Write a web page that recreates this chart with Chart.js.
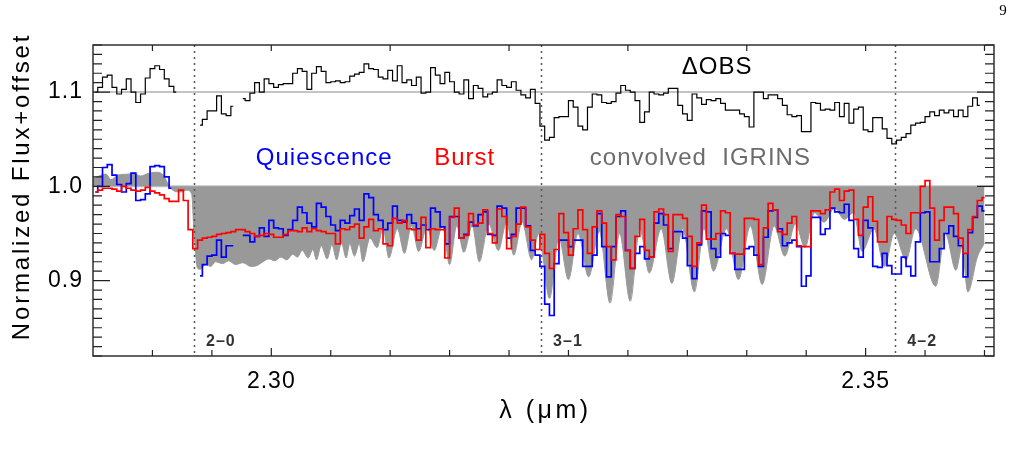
<!DOCTYPE html>
<html>
<head>
<meta charset="utf-8">
<script src="https://cdn.jsdelivr.net/npm/chart.js@4.4.1/dist/chart.umd.min.js"></script>
<style>
html,body{margin:0;padding:0;background:#ffffff;}
canvas{display:block;}
</style>
</head>
<body>
<canvas id="c" width="1018" height="451"></canvas>
<script>
// ---- wavelength of each spectral bin (micron) ----
const wavelength = [
2.2852,2.2856,2.2860,2.2864,2.2868,2.2872,2.2876,2.2880,2.2884,2.2888,
2.2892,2.2896,2.2900,2.2904,2.2908,2.2912,2.2916,2.2920,2.2924,2.2928,
2.2932,2.2936,2.2940,2.2944,2.2948,2.2952,2.2956,2.2960,2.2964,2.2968,
2.2972,2.2976,2.2980,2.2984,2.2988,2.2992,2.2996,2.3000,2.3004,2.3008,
2.3012,2.3016,2.3020,2.3024,2.3028,2.3032,2.3036,2.3040,2.3044,2.3048,
2.3052,2.3056,2.3060,2.3064,2.3068,2.3072,2.3076,2.3080,2.3084,2.3088,
2.3092,2.3096,2.3100,2.3104,2.3108,2.3112,2.3116,2.3120,2.3124,2.3128,
2.3132,2.3136,2.3140,2.3144,2.3148,2.3152,2.3156,2.3160,2.3164,2.3168,
2.3172,2.3176,2.3180,2.3184,2.3188,2.3192,2.3196,2.3200,2.3204,2.3208,
2.3212,2.3216,2.3220,2.3224,2.3228,2.3232,2.3236,2.3240,2.3244,2.3248,
2.3252,2.3256,2.3260,2.3264,2.3268,2.3272,2.3276,2.3280,2.3284,2.3288,
2.3292,2.3296,2.3300,2.3304,2.3308,2.3312,2.3316,2.3320,2.3324,2.3328,
2.3332,2.3336,2.3340,2.3344,2.3348,2.3352,2.3356,2.3360,2.3364,2.3368,
2.3372,2.3376,2.3380,2.3384,2.3388,2.3392,2.3396,2.3400,2.3404,2.3408,
2.3412,2.3416,2.3420,2.3424,2.3428,2.3432,2.3436,2.3440,2.3444,2.3448,
2.3452,2.3456,2.3460,2.3464,2.3468,2.3472,2.3476,2.3480,2.3484,2.3488,
2.3492,2.3496,2.3500,2.3504,2.3508,2.3512,2.3516,2.3520,2.3524,2.3528,
2.3532,2.3536,2.3540,2.3544,2.3548,2.3552,2.3556,2.3560,2.3564,2.3568,
2.3572,2.3576,2.3580,2.3584,2.3588,2.3592,2.3596,2.3600
];

// ---- Quiescence spectrum (blue) ----
const quiescence = [
0.994,1.000,1.020,1.023,1.012,1.002,0.994,1.003,1.014,0.985,
0.986,0.992,1.021,1.022,1.021,1.010,0.998,null,null,null,
null,null,0.905,0.917,0.926,0.927,0.943,0.925,0.937,0.937,
null,0.948,0.948,0.941,0.947,0.956,0.947,0.964,0.956,0.955,
0.948,0.954,0.964,0.978,0.972,0.961,0.957,0.982,0.978,0.968,
0.959,0.953,0.964,0.961,0.969,0.976,0.964,0.992,0.988,0.970,
0.964,0.954,0.961,0.979,0.964,0.962,0.970,0.961,0.955,0.959,
0.954,0.977,0.973,0.957,0.939,0.968,0.968,0.945,0.949,0.962,
0.958,0.970,0.973,0.949,0.948,0.979,0.977,0.945,0.949,0.977,
0.977,0.958,0.932,0.927,0.915,0.875,0.863,0.918,0.943,0.943,
0.936,0.943,0.943,0.915,0.915,0.927,0.971,0.936,0.904,0.936,
0.968,0.974,0.932,0.913,0.929,0.936,0.923,0.925,0.961,0.971,
0.959,0.934,0.952,0.952,0.945,0.916,0.902,0.938,0.974,0.973,
0.934,0.925,0.950,0.948,0.929,0.912,0.912,0.934,0.936,0.927,
0.915,0.946,0.974,0.975,0.955,0.937,0.940,0.943,0.936,0.894,
0.905,0.967,0.967,0.949,0.955,0.977,0.973,0.972,0.981,0.964,
0.934,0.925,0.964,0.956,0.915,0.914,0.929,0.916,0.907,0.907,
0.925,0.915,0.905,0.941,0.972,0.973,0.920,0.920,0.934,0.950,
0.958,0.947,0.937,0.904,0.951,0.967,0.979,0.974
];

// ---- Burst spectrum (red) ----
const burst = [
0.994,0.996,0.998,0.998,0.997,0.995,1.000,0.998,0.996,0.995,
0.996,0.999,0.995,0.993,0.991,0.987,0.984,0.984,0.996,0.985,
0.954,0.934,0.943,0.945,0.946,0.947,0.949,0.950,0.951,0.952,
0.954,0.954,0.952,0.950,0.947,0.948,0.950,0.949,0.946,0.946,
0.949,0.953,0.953,0.952,0.956,0.952,0.955,0.953,0.952,0.950,
0.950,0.939,0.955,0.954,0.957,0.960,0.945,0.957,0.965,0.953,
0.955,0.939,0.937,0.966,0.961,0.964,0.955,0.954,0.943,0.967,
0.935,0.955,0.954,0.954,0.924,0.967,0.977,0.945,0.948,0.971,
0.959,0.961,0.975,0.950,0.940,0.976,0.968,0.934,0.947,0.960,
0.978,0.957,0.943,0.933,0.949,0.929,0.913,0.933,0.971,0.951,
0.927,0.955,0.975,0.954,0.929,0.957,0.974,0.961,0.936,0.922,
0.970,0.968,0.932,0.913,0.947,0.965,0.932,0.925,0.973,0.976,
0.970,0.931,0.970,0.970,0.966,0.947,0.915,0.940,0.980,0.944,
0.944,0.950,0.974,0.972,0.929,0.928,0.928,0.966,0.966,0.965,
0.917,0.956,0.982,0.975,0.952,0.949,0.961,0.968,0.937,0.936,
0.936,0.974,0.974,0.971,0.975,0.994,0.997,0.985,0.995,0.996,
0.965,0.948,0.978,0.989,0.963,0.941,0.941,0.968,0.965,0.964,
0.959,0.950,0.972,0.972,1.000,1.006,0.977,0.943,0.964,0.978,
0.978,0.971,0.945,0.929,0.954,0.968,0.985,0.988
];

// ---- Delta OBS (offset to 1.1) ----
const deltaObs = [
1.100,1.105,1.116,1.118,1.105,1.098,1.103,1.114,1.100,1.089,
1.098,1.115,1.125,1.128,1.124,1.114,1.106,1.100,null,null,
null,null,1.065,1.071,1.080,1.080,1.096,1.077,1.075,1.085,
null,1.093,1.091,1.099,1.110,1.100,1.114,1.109,1.105,1.108,
1.109,1.109,1.120,1.125,1.122,1.103,1.120,1.127,1.122,1.110,
1.111,1.112,1.110,1.111,1.117,1.119,1.121,1.130,1.125,1.124,
1.116,1.114,1.123,1.112,1.128,1.110,1.113,1.107,1.116,1.099,
1.100,1.126,1.118,1.109,1.121,1.111,1.100,1.098,1.113,1.093,
1.107,1.104,1.095,1.098,1.100,1.113,1.107,1.105,1.111,1.102,
1.097,1.094,1.103,1.088,1.064,1.049,1.052,1.073,1.074,1.074,
1.091,1.084,1.064,1.060,1.084,1.098,1.097,1.089,1.088,1.090,
1.099,1.107,1.102,1.100,1.091,1.068,1.079,1.100,1.098,1.097,
1.099,1.104,1.104,1.086,1.077,1.070,1.098,1.094,1.087,1.092,
1.091,1.093,1.088,1.081,1.081,1.081,1.077,1.074,1.063,1.100,
1.100,1.093,1.097,1.097,1.093,1.086,1.076,1.074,1.075,1.058,
1.058,1.089,1.088,1.081,1.082,1.081,1.089,1.074,1.088,1.067,
1.082,1.084,1.060,1.058,1.073,1.073,1.061,1.051,1.045,1.049,
1.052,1.056,1.065,1.067,1.068,1.074,1.079,1.075,1.081,1.078,
1.081,1.074,1.081,1.074,1.085,1.094,1.086,null
];

// ---- convolved IGRINS model (grey) ----
const modelWave = [
2.2850,2.2857,2.2861,2.2865,2.2871,2.2880,2.2884,2.2890,2.2897,2.2904,
2.2909,2.2913,2.2917,2.2924,2.2929,2.2933,2.2935,2.2938,
2.2940,2.2945,2.2949,2.2953,2.2959,2.2964,2.2970,2.2976,2.2983,2.2988,
2.2993,2.2998,2.3003,2.3008,2.3013,2.3018,2.3022,2.3026,2.3031,2.3035,
2.3038,2.3042,2.3047,2.3051,2.3055,2.3059,2.3063,2.3066,2.3070,2.3074,
2.3077,2.3083,2.3089,2.3094,2.3099,2.3106,2.3112,2.3118,2.3124,2.3131,
2.3137,2.3144,2.3150,2.3156,2.3162,2.3169,2.3175,2.3183,2.3191,2.3198,
2.3204,2.3211,2.3219,2.3225,2.3228,2.3234,2.3242,2.3250,2.3258,2.3267,
2.3276,2.3285,2.3293,2.3302,2.3310,2.3318,2.3328,2.3337,2.3346,2.3356,
2.3364,2.3372,2.3383,2.3393,2.3403,2.3413,2.3423,2.3432,2.3441,2.3449,
2.3457,2.3465,2.3474,2.3482,2.3490,2.3497,2.3507,2.3516,2.3524,2.3534,
2.3542,2.3559,2.3567,2.3576,2.3581,2.3586,2.3594,2.3600
];
const modelFlux = [
1.008,1.012,1.013,1.007,1.012,1.013,1.014,1.011,1.014,1.015,
1.012,1.003,0.996,0.994,0.996,0.992,0.950,0.913,
0.912,0.917,0.915,0.920,0.918,0.921,0.917,0.919,0.915,0.916,
0.920,0.923,0.921,0.925,0.922,0.928,0.925,0.932,0.924,0.933,
0.922,0.937,0.923,0.938,0.922,0.940,0.924,0.939,0.926,0.939,
0.920,0.945,0.935,0.955,0.924,0.955,0.929,0.958,0.931,0.957,
0.932,0.958,0.917,0.958,0.930,0.958,0.920,0.960,0.932,0.962,
0.927,0.962,0.922,0.950,0.930,0.881,0.945,0.901,0.950,0.904,
0.952,0.876,0.950,0.878,0.955,0.908,0.955,0.897,0.955,0.888,
0.955,0.910,0.955,0.901,0.958,0.896,0.958,0.926,0.960,0.935,
0.972,0.962,0.977,0.965,0.972,0.931,0.955,0.915,0.950,0.922,
0.955,0.894,0.950,0.911,0.935,0.888,0.925,0.940
];

// ---- CO bandheads ----
const bandheadWave = [2.2935, 2.3227, 2.3525];
const bandheadLabels = ['2\u20130', '3\u20131', '4\u20132'];

// ---- tick labels ----
const xTickValues = [2.30, 2.35];
const xTickText = ['2.30', '2.35'];
const yTickValues = [0.9, 1.0, 1.1];
const yTickText = ['0.9', '1.0', '1.1'];

// ---- axis titles ----
const xTitle = '\u03bb (\u03bcm)';
const yTitle = 'Normalized Flux+offset';

// ---- annotation texts ----
const annotations = [
  {text: '\u0394OBS', x: 2.3375, y: 1.1267, color: '#000000', align: 'center'},
  {text: 'Quiescence', x: 2.2987, y: 1.0293, color: '#0000ff', align: 'left'},
  {text: 'Burst', x: 2.3137, y: 1.0293, color: '#ff0000', align: 'left'},
  {text: 'convolved  IGRINS', x: 2.3268, y: 1.0293, color: '#6c6c6c', align: 'left'}
];

const FONT = "'Liberation Sans', Arial, Helvetica, sans-serif";
Chart.defaults.font.family = FONT;

const pts = (xs, ys) => xs.map((x, i) => ({x: x, y: ys[i]}));

const styleTweak = {
  id: 'styleTweak',
  beforeDraw(chart) {
    try { chart.ctx.letterSpacing = '1px'; } catch (e) {}
  },
  beforeDatasetsDraw(chart) {
    const {ctx, chartArea: a, scales: {y}} = chart;
    ctx.save();
    ctx.strokeStyle = '#c4c4c4';
    ctx.lineWidth = 2;
    [1.0, 1.1].forEach(v => {
      const py = y.getPixelForValue(v);
      ctx.beginPath(); ctx.moveTo(a.left, py); ctx.lineTo(a.right, py); ctx.stroke();
    });
    ctx.restore();
  },
  afterDatasetDraw(chart, args) {
    if (args.index !== 3) return;
    const {ctx, chartArea: a, scales: {x}} = chart;
    ctx.save();
    ctx.strokeStyle = '#555555';
    ctx.lineWidth = 1.5;
    ctx.setLineDash([2, 4]);
    bandheadWave.forEach(w => {
      const px = Math.round(x.getPixelForValue(w)) + 0.5;
      ctx.beginPath(); ctx.moveTo(px, a.top); ctx.lineTo(px, a.bottom); ctx.stroke();
    });
    ctx.restore();
  },
  afterDraw(chart) {
    const {ctx, chartArea: a, scales: {x, y}} = chart;
    ctx.save();
    // frame
    ctx.strokeStyle = '#222222';
    ctx.lineWidth = 1.4;
    ctx.strokeRect(a.left, a.top, a.right - a.left, a.bottom - a.top);
    // inward ticks
    ctx.lineWidth = 1.2;
    ctx.beginPath();
    for (let k = 82; k <= 115; k++) {
      const py = y.getPixelForValue(k / 100);
      if (py < a.top - 0.5 || py > a.bottom + 0.5) continue;
      const len = (k % 10 === 0) ? 17 : 9;
      ctx.moveTo(a.left, py); ctx.lineTo(a.left + len, py);
      ctx.moveTo(a.right, py); ctx.lineTo(a.right - len, py);
    }
    for (let k = 457; k <= 472; k++) {
      const px = x.getPixelForValue(k * 0.005);
      if (px < a.left + 1 || px > a.right - 1) continue;
      const len = (k % 10 === 0) ? 8 : 6;
      ctx.moveTo(px, a.bottom); ctx.lineTo(px, a.bottom - len);
    }
    for (let k = 229; k <= 236; k++) {
      const px = x.getPixelForValue(k * 0.01);
      if (px < a.left + 1 || px > a.right - 1) continue;
      ctx.moveTo(px, a.top); ctx.lineTo(px, a.top + 6);
    }
    ctx.stroke();
    // annotation texts
    ctx.textBaseline = 'middle';
    ctx.font = '24px ' + FONT;
    annotations.forEach(t => {
      ctx.fillStyle = t.color;
      ctx.textAlign = t.align;
      ctx.fillText(t.text, x.getPixelForValue(t.x), y.getPixelForValue(t.y));
    });
    // bandhead labels
    ctx.font = 'bold 16px ' + FONT;
    ctx.fillStyle = '#333333';
    ctx.textAlign = 'left';
    bandheadWave.forEach((w, i) => {
      ctx.fillText(bandheadLabels[i], x.getPixelForValue(w) + 12, y.getPixelForValue(0.8351));
    });
    // axis titles
    ctx.fillStyle = '#000000';
    ctx.textAlign = 'center';
    ctx.font = '25px ' + FONT;
    try { ctx.letterSpacing = '3.5px'; } catch (e) {}
    ctx.fillText(xTitle, (a.left + a.right) / 2 + 2, 411);
    ctx.save();
    ctx.font = '24px ' + FONT;
    try { ctx.letterSpacing = '2.8px'; } catch (e) {}
    ctx.translate(22, 186.5);
    ctx.rotate(-Math.PI / 2);
    ctx.fillText(yTitle, 0, 0);
    ctx.restore();
    // page number
    try { ctx.letterSpacing = '0px'; } catch (e) {}
    ctx.font = "15px 'Liberation Serif', 'DejaVu Serif', serif";
    ctx.fillStyle = '#000000';
    ctx.textAlign = 'center';
    ctx.fillText('9', 1003, 11);
    ctx.restore();
  }
};

new Chart(document.getElementById('c'), {
  type: 'line',
  data: {
    datasets: [
      {label: 'Burst', data: pts(wavelength, burst), borderColor: '#ff0000', borderWidth: 1.7,
       stepped: 'middle', pointRadius: 0, fill: false, spanGaps: false},
      {label: 'Quiescence', data: pts(wavelength, quiescence), borderColor: '#0000ff', borderWidth: 1.7,
       stepped: 'middle', pointRadius: 0, fill: false, spanGaps: false},
      {label: '\u0394OBS', data: pts(wavelength, deltaObs), borderColor: '#000000', borderWidth: 1.2,
       stepped: 'middle', pointRadius: 0, fill: false, spanGaps: false},
      {label: 'convolved IGRINS', data: pts(modelWave, modelFlux), borderColor: '#999999', borderWidth: 1,
       backgroundColor: '#999999', fill: {value: 1.0}, cubicInterpolationMode: 'monotone',
       pointRadius: 0}
    ]
  },
  options: {
    responsive: false,
    animation: false,
    devicePixelRatio: 1,
    layout: {padding: {left: 0, top: 45, right: 24, bottom: 0}},
    plugins: {legend: {display: false}, tooltip: {enabled: false}},
    scales: {
      x: {
        type: 'linear', min: 2.285, max: 2.3608,
        afterFit: s => { s.height = 95; },
        afterBuildTicks: s => { s.ticks = xTickValues.map(v => ({value: v})); },
        grid: {display: false, drawTicks: false},
        border: {display: false},
        ticks: {autoSkip: false, maxRotation: 0, padding: 12, color: '#000',
                font: {size: 23}, callback: (v, i) => xTickText[i]},
        title: {display: false, text: xTitle}
      },
      y: {
        type: 'linear', min: 0.82, max: 1.15,
        afterFit: s => { s.width = 93; },
        afterBuildTicks: s => { s.ticks = yTickValues.map(v => ({value: v})); },
        grid: {display: false, drawTicks: false},
        border: {display: false},
        ticks: {autoSkip: false, padding: 10, color: '#000',
                font: {size: 23}, callback: (v, i) => yTickText[i]},
        title: {display: false, text: yTitle}
      }
    }
  },
  plugins: [styleTweak]
});
</script>
</body>
</html>
